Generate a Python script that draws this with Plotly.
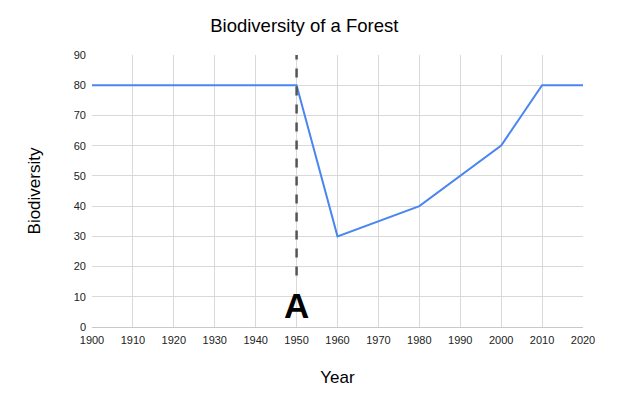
import plotly.graph_objects as go

years = [1900, 1950, 1960, 1980, 2000, 2010, 2020]
biodiversity = [80, 80, 30, 40, 60, 80, 80]

marker_year = 1950
marker_span = [17, 90]
marker_label = "A"

fig = go.Figure()
fig.add_trace(go.Scatter(x=years, y=biodiversity, mode="lines",
                         line=dict(color="#4a86f0", width=2), showlegend=False))
fig.add_trace(go.Scatter(x=[marker_year, marker_year], y=marker_span, mode="lines",
                         line=dict(color="#555555", width=2.5, dash="dash"),
                         showlegend=False))
fig.add_annotation(x=marker_year, y=7, text="<b>" + marker_label + "</b>",
                   showarrow=False, font=dict(size=35, color="black",
                                              family="Liberation Sans"))

# page body adds an 8px offset, so margins are set to compensate
fig.update_layout(
    width=640, height=410,
    margin=dict(l=84, r=65, t=47, b=91),
    paper_bgcolor="white", plot_bgcolor="white",
    font=dict(family="Liberation Sans", color="#222222", size=11),
    title=dict(text="Biodiversity of a Forest", x=0.463, xanchor="center",
               y=0.957, yanchor="middle", font=dict(size=18.5, color="black")),
)
fig.update_xaxes(range=[1900, 2020], dtick=10, showgrid=True, gridcolor="#d9d9d9",
                 zeroline=False, showline=True, linecolor="#c8c8c8",
                 ticks="", ticklabelstandoff=3,
                 title=dict(text="Year", font=dict(size=17, color="black"),
                            standoff=25))
fig.update_yaxes(range=[0, 90], dtick=10, showgrid=True, gridcolor="#d9d9d9",
                 zeroline=False, showline=False, ticks="", ticklabelstandoff=5,
                 title=dict(text="Biodiversity", font=dict(size=17, color="black"),
                            standoff=28))

fig.write_html("out.html")
